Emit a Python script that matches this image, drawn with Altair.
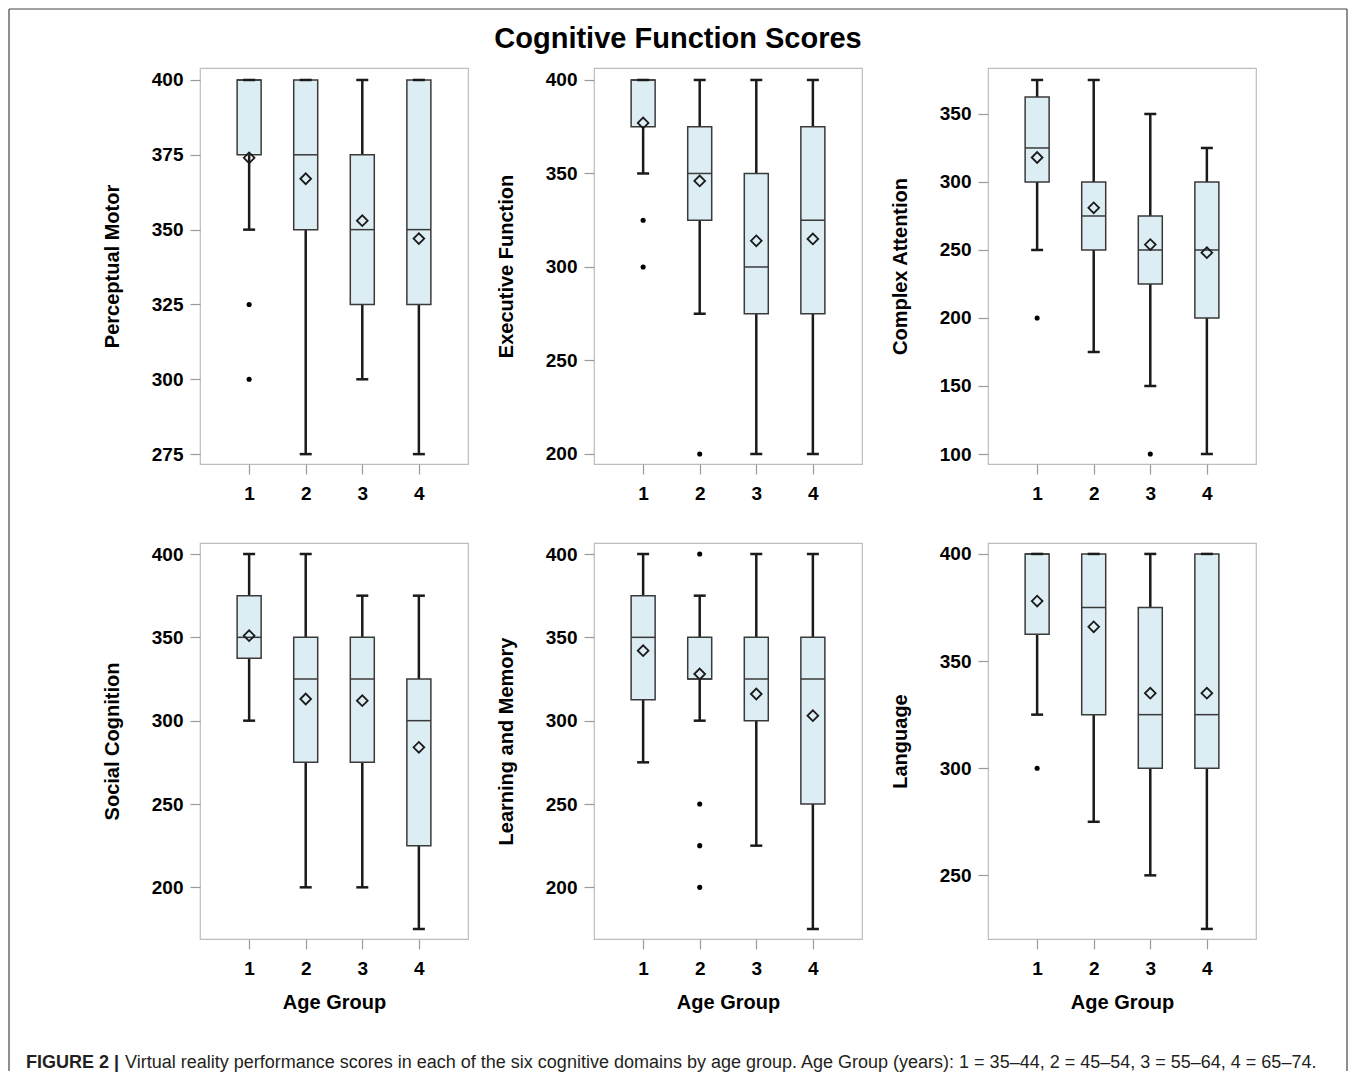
import altair as alt
import pandas as pd

FONT = "Liberation Sans"
groups = [1, 2, 3, 4]
x_ticks = [1, 2, 3, 4]
x_domain = [0.22, 4.78]

# ---- Perceptual Motor ----
pm_low = [350, 275, 300, 275]
pm_q1 = [375, 350, 325, 325]
pm_median = [400, 375, 350, 350]
pm_q3 = [400, 400, 375, 400]
pm_high = [400, 400, 400, 400]
pm_mean = [374, 367, 353, 347]
pm_out_group = [1, 1]
pm_out_value = [325, 300]
pm_ticks = [275, 300, 325, 350, 375, 400]
pm_domain = [271.7, 404.0]

# ---- Executive Function ----
ef_low = [350, 275, 200, 200]
ef_q1 = [375, 325, 275, 275]
ef_median = [400, 350, 300, 325]
ef_q3 = [400, 375, 350, 375]
ef_high = [400, 400, 400, 400]
ef_mean = [377, 346, 314, 315]
ef_out_group = [1, 1, 2]
ef_out_value = [325, 300, 200]
ef_ticks = [200, 250, 300, 350, 400]
ef_domain = [194.65, 406.4]

# ---- Complex Attention ----
ca_low = [250, 175, 150, 100]
ca_q1 = [300, 250, 225, 200]
ca_median = [325, 275, 250, 250]
ca_q3 = [362.5, 300, 275, 300]
ca_high = [375, 375, 350, 325]
ca_mean = [318, 281, 254, 248]
ca_out_group = [1, 3]
ca_out_value = [200, 100]
ca_ticks = [100, 150, 200, 250, 300, 350]
ca_domain = [92.65, 383.8]

# ---- Social Cognition ----
sc_low = [300, 200, 200, 175]
sc_q1 = [337.5, 275, 275, 225]
sc_median = [350, 325, 325, 300]
sc_q3 = [375, 350, 350, 325]
sc_high = [400, 400, 375, 375]
sc_mean = [351, 313, 312, 284]
sc_out_group = []
sc_out_value = []
sc_ticks = [200, 250, 300, 350, 400]
sc_domain = [169.0, 406.6]

# ---- Learning and Memory ----
lm_low = [275, 300, 225, 175]
lm_q1 = [312.5, 325, 300, 250]
lm_median = [350, 325, 325, 325]
lm_q3 = [375, 350, 350, 350]
lm_high = [400, 375, 400, 400]
lm_mean = [342, 328, 316, 303]
lm_out_group = [2, 2, 2, 2]
lm_out_value = [400, 250, 225, 200]
lm_ticks = [200, 250, 300, 350, 400]
lm_domain = [169.0, 406.6]

# ---- Language ----
la_low = [325, 275, 250, 225]
la_q1 = [362.5, 325, 300, 300]
la_median = [400, 375, 325, 325]
la_q3 = [400, 400, 375, 400]
la_high = [400, 400, 400, 400]
la_mean = [378, 366, 335, 335]
la_out_group = [1]
la_out_value = [300]
la_ticks = [250, 300, 350, 400]
la_domain = [220.3, 405.1]

title_text = "Cognitive Function Scores"
x_title = "Age Group"
caption_bold = "FIGURE 2 |"
caption_text = ("Virtual reality performance scores in each of the six cognitive domains by age group. "
                "Age Group (years): 1 = 35\u201344, 2 = 45\u201354, 3 = 55\u201364, 4 = 65\u201374.")

BOX_FILL = "#ddedf4"
BOX_STROKE = "#3a3a3a"
LINE = "#1a1a1a"
PW, PH = 268, 396


def panel(name, low, q1, med, q3, high, mean, og, ov, ticks, domain, bottom):
    df = pd.DataFrame({"group": groups, "low": low, "q1": q1, "median": med,
                       "q3": q3, "high": high, "mean": mean})
    out = pd.DataFrame({"group": og, "value": ov})
    xax = alt.Axis(values=x_ticks, format="d", labelPadding=10, labelFlush=False,
                   minExtent=40, maxExtent=40, titlePadding=13,
                   title=x_title if bottom else None)
    yax = alt.Axis(values=ticks, format="d", labelPadding=7, labelFlush=False,
                   minExtent=50, maxExtent=50, titlePadding=28, title=name)
    xs = alt.Scale(domain=x_domain, nice=False, zero=False)
    ys = alt.Scale(domain=domain, nice=False, zero=False)
    X = alt.X("group:Q", scale=xs, axis=xax)
    base = alt.Chart(df)
    whisk = base.mark_rule(color=LINE, strokeWidth=2.5).encode(
        x=X, y=alt.Y("low:Q", scale=ys, axis=yax), y2="high:Q")
    box = base.mark_bar(size=24, fill=BOX_FILL, stroke=BOX_STROKE, strokeWidth=1.5).encode(
        x="group:Q", y="q1:Q", y2="q3:Q")
    median = base.mark_tick(orient="horizontal", size=24, thickness=1.5, color=BOX_STROKE,
                            opacity=1).encode(x="group:Q", y="median:Q")
    cap_lo = base.mark_tick(orient="horizontal", size=12, thickness=2.5, color=LINE,
                            opacity=1).encode(x="group:Q", y="low:Q")
    cap_hi = base.mark_tick(orient="horizontal", size=12, thickness=2.5, color=LINE,
                            opacity=1).encode(x="group:Q", y="high:Q")
    mn = base.mark_point(shape="diamond", size=115, filled=False, color=LINE,
                         strokeWidth=1.8, opacity=1).encode(x="group:Q", y="mean:Q")
    layers = [whisk, box, median, cap_lo, cap_hi, mn]
    if len(og):
        pts = alt.Chart(out).mark_circle(size=26, color="black", opacity=1).encode(
            x="group:Q", y="value:Q")
        layers.append(pts)
    return alt.layer(*layers).properties(width=PW, height=PH)


p1 = panel("Perceptual Motor", pm_low, pm_q1, pm_median, pm_q3, pm_high, pm_mean,
           pm_out_group, pm_out_value, pm_ticks, pm_domain, False)
p2 = panel("Executive Function", ef_low, ef_q1, ef_median, ef_q3, ef_high, ef_mean,
           ef_out_group, ef_out_value, ef_ticks, ef_domain, False)
p3 = panel("Complex Attention", ca_low, ca_q1, ca_median, ca_q3, ca_high, ca_mean,
           ca_out_group, ca_out_value, ca_ticks, ca_domain, False)
p4 = panel("Social Cognition", sc_low, sc_q1, sc_median, sc_q3, sc_high, sc_mean,
           sc_out_group, sc_out_value, sc_ticks, sc_domain, True)
p5 = panel("Learning and Memory", lm_low, lm_q1, lm_median, lm_q3, lm_high, lm_mean,
           lm_out_group, lm_out_value, lm_ticks, lm_domain, True)
p6 = panel("Language", la_low, la_q1, la_median, la_q3, la_high, la_mean,
           la_out_group, la_out_value, la_ticks, la_domain, True)

# figure title, caption and outer frame: one cell of a third grid row
cap_df = pd.DataFrame({"bold": [caption_bold], "text": [caption_text], "title": [title_text]})
cap_base = alt.Chart(cap_df)
ttl = cap_base.mark_text(align="center", baseline="middle", font=FONT, fontSize=29,
                         fontWeight="bold", color="black").encode(
    x=alt.value(478), y=alt.value(-979), text="title:N")
cap_b = cap_base.mark_text(align="left", baseline="middle", font=FONT, fontSize=18,
                           fontWeight="bold", color="#231f20").encode(
    x=alt.value(-174), y=alt.value(45), text="bold:N")
cap_t = cap_base.mark_text(align="left", baseline="middle", font=FONT, fontSize=18,
                           color="#231f20").encode(
    x=alt.value(-75), y=alt.value(45), text="text:N")
fr_l = cap_base.mark_rule(color="#444444", strokeWidth=1.2).encode(
    x=alt.value(-191), y=alt.value(-1009), y2=alt.value(53))
fr_r = cap_base.mark_rule(color="#444444", strokeWidth=1.2).encode(
    x=alt.value(1147), y=alt.value(-1009), y2=alt.value(53))
fr_t = cap_base.mark_rule(color="#444444", strokeWidth=1.2).encode(
    x=alt.value(-191), x2=alt.value(1147), y=alt.value(-1009))
caption = alt.layer(ttl, cap_b, cap_t, fr_l, fr_r, fr_t).properties(
    width=PW, height=20, view=alt.ViewBackground(strokeWidth=0))

chart = alt.concat(p1, p2, p3, p4, p5, p6, caption, columns=3,
                   spacing=alt.RowColnumber(row=79, column=126), bounds="flush").properties(
    padding=0,
).configure_view(stroke="#bdbdbd", strokeWidth=1.2).configure_axis(
    labelFont=FONT, labelFontSize=19, labelFontWeight="bold", labelColor="black",
    titleFont=FONT, titleFontSize=20, titleFontWeight="bold", titleColor="black",
    tickColor="#9a9a9a", tickSize=10, tickWidth=1.2, domain=False, grid=False,
    labelOverlap=False,
)

chart.save("out.html", embed_options={"renderer": "svg", "actions": False})
